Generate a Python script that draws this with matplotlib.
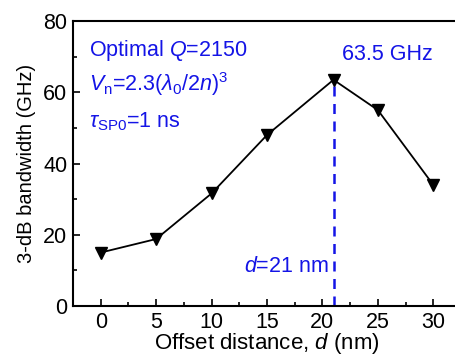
import matplotlib
matplotlib.use('Agg')
import matplotlib.pyplot as plt
from matplotlib.ticker import MultipleLocator

plt.rcParams['font.family'] = ['Liberation Sans', 'DejaVu Sans']
plt.rcParams['mathtext.fontset'] = 'custom'
plt.rcParams['mathtext.rm'] = 'Liberation Sans'
plt.rcParams['mathtext.it'] = 'Liberation Sans:italic'

# data
offset = [0, 5, 10, 15, 21, 25, 30]
bandwidth = [15.0, 18.8, 31.6, 48.0, 63.5, 55.0, 34.0]
d_opt = 21
bw_peak = 63.5

blue = '#1414e6'

fig = plt.figure(figsize=(4.56, 3.58), dpi=100)
ax = fig.add_axes([73/456, 52/358, 388/456, 285/358])

ax.plot(offset, bandwidth, color='black', lw=1.3, marker='v', ms=9)
ax.plot([d_opt, d_opt], [0, bw_peak], color=blue, ls=(0, (4, 3)), lw=1.8, zorder=1)

ax.set_xlim(-2.5, 32.5)
ax.set_ylim(0, 80)
ax.xaxis.set_major_locator(MultipleLocator(5))
ax.xaxis.set_minor_locator(MultipleLocator(2.5))
ax.yaxis.set_major_locator(MultipleLocator(20))
ax.yaxis.set_minor_locator(MultipleLocator(10))
ax.tick_params(which='both', direction='in', top=False, right=False, width=1.2)
ax.tick_params(which='major', length=5, labelsize=15.5, pad=4)
ax.tick_params(which='minor', length=3)
for s in ax.spines.values():
    s.set_linewidth(1.5)
ax.spines['right'].set_visible(False)

ax.set_xlabel('Offset distance, $d$ (nm)', fontsize=16, labelpad=-1)
ax.set_ylabel('3-dB bandwidth (GHz)', fontsize=14.5, labelpad=5)

ax.text(0.04, 0.898, 'Optimal $Q$=2150', transform=ax.transAxes, color=blue,
        fontsize=15.5, va='center')
ax.text(0.04, 0.779, r'$V_{\rm n}$=2.3($\lambda_0$/2$n$)$^3$', transform=ax.transAxes,
        color=blue, fontsize=15.5, va='center')
ax.text(0.04, 0.646, r'$\tau_{\rm SP0}$=1 ns', transform=ax.transAxes, color=blue,
        fontsize=15.5, va='center')
ax.text(d_opt + 0.8, 70.5, '63.5 GHz', color=blue, fontsize=15.5, va='center')
ax.text(d_opt - 0.4, 11.2, '$d$=21 nm', color=blue, fontsize=15.5, va='center', ha='right')

fig.savefig('out.png', dpi=100)
